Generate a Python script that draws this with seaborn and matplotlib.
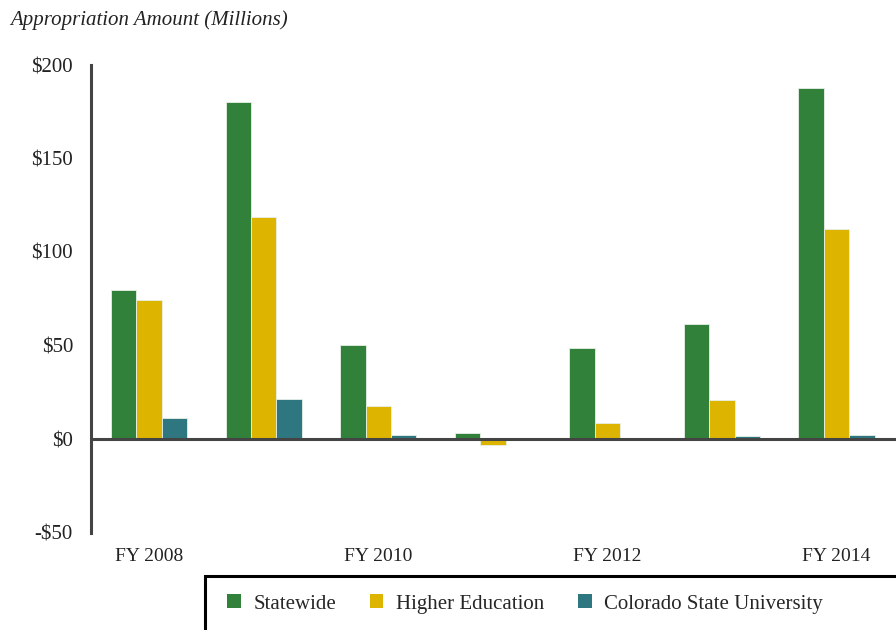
import matplotlib
matplotlib.use("Agg")
import matplotlib.pyplot as plt
import matplotlib.patches as mpatches
import seaborn as sns
import pandas as pd

years = ["FY 2008", "FY 2009", "FY 2010", "FY 2011", "FY 2012", "FY 2013", "FY 2014"]
tick_labels = ["FY 2008", "", "FY 2010", "", "FY 2012", "", "FY 2014"]
series = ["Statewide", "Higher Education", "Colorado State University"]
statewide = [79.7, 180.4, 50.4, 3.0, 48.8, 61.7, 187.5]
higher_ed = [74.5, 118.5, 17.6, -3.0, 8.7, 20.9, 112.3]
csu = [11.0, 21.5, 2.1, 0.0, 0.0, 1.6, 2.3]
colors = ["#31813A", "#DDB400", "#2E7780"]
y_ticks = [-50, 0, 50, 100, 150, 200]
y_tick_labels = ["-$50", "$0", "$50", "$100", "$150", "$200"]

rows = []
for s, vals in zip(series, [statewide, higher_ed, csu]):
    for y, v in zip(years, vals):
        rows.append({"year": y, "series": s, "value": v})
df = pd.DataFrame(rows)

sns.set_theme(style="white")
plt.rcParams["font.family"] = ["Liberation Serif", "DejaVu Serif"]

fig = plt.figure(figsize=(8.96, 6.3), dpi=100)
ax = fig.add_axes([91/896, 1-532.5/630, 1-91/896, (532.5-65)/630])

sns.barplot(data=df, x="year", y="value", hue="series", order=years,
            hue_order=series, palette=colors, saturation=1, width=0.667,
            edgecolor="#e8f0e8", linewidth=0.6, ax=ax, legend=False)

ax.set_xlim(-0.508, 6.52)
ax.set_ylim(-50, 200)
ax.set_yticks(y_ticks)
ax.set_yticklabels(y_tick_labels, fontsize=15, color="#222222")
ax.set_xticks(range(len(years)))
ax.set_xticklabels(tick_labels, fontsize=14, color="#222222")
ax.tick_params(axis="y", length=0, pad=13)
ax.tick_params(axis="x", length=0, pad=11)
ax.set_xlabel("")
ax.set_ylabel("")
for side in ["top", "right", "bottom"]:
    ax.spines[side].set_visible(False)
ax.spines["left"].set_color("#444444")
ax.spines["left"].set_linewidth(2.2)
ax.axhline(0, color="#444444", linewidth=2.2, zorder=5)

fig.text(10/896, 1-20/630, "Appropriation Amount (Millions)", fontsize=15,
         style="italic", color="#222222", va="center", ha="left")

rect = mpatches.Rectangle((205/896, -0.1), 1.0, 0.1 + 1-576/630,
                          transform=fig.transFigure, fill=False,
                          edgecolor="black", linewidth=2.2, clip_on=False)
fig.patches.append(rect)

handles = [mpatches.Patch(facecolor=c, edgecolor="none", label=s)
           for c, s in zip(colors, series)]
fig.legend(handles=handles, loc="center", bbox_to_anchor=(525/896, 1-604/630),
           ncol=3, frameon=False, fontsize=15, handlelength=0.65,
           handleheight=0.65, handletextpad=0.6, columnspacing=1.63)

fig.savefig("out.png", dpi=100, facecolor="white")
